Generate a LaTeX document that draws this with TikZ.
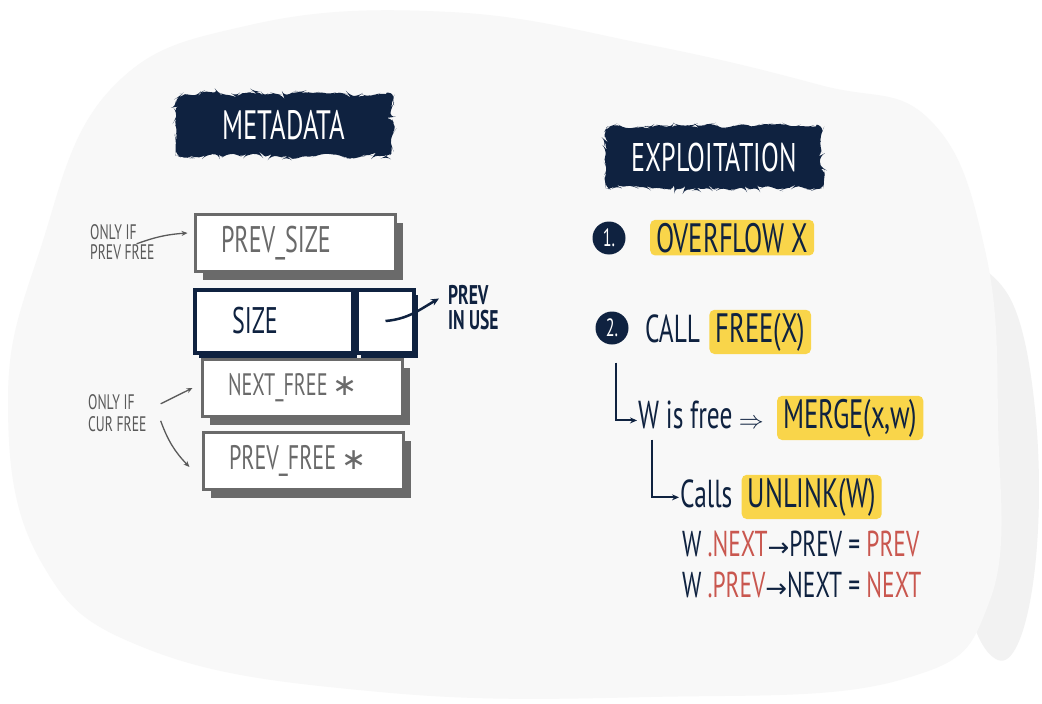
\documentclass[tikz,border=0pt]{standalone}
\usepackage{fontspec}
\setmainfont{PT Sans}[FakeStretch=0.65]
\newfontfamily\symfont{DejaVu Sans}
\usepackage{xcolor}
\definecolor{navy}{HTML}{0F2240}
\definecolor{boxgray}{HTML}{6A6A6A}
\definecolor{notegray}{HTML}{5A5A5A}
\definecolor{hlyellow}{HTML}{F9D54A}
\definecolor{redtxt}{HTML}{C9574F}
\definecolor{blobgray}{HTML}{F8F8F8}
\definecolor{blobdark}{HTML}{F2F2F2}
\usepackage{tikz}
\usetikzlibrary{arrows.meta,positioning,shadows,decorations.pathmorphing}
\tikzset{
  badge/.style={rectangle,rounded corners=6pt,
    fill=navy,text=white,
    decorate,decoration={random steps,segment length=5pt,amplitude=3pt},
    minimum width=216pt,minimum height=62pt,
    font=\fontsize{41}{43}\selectfont},
  mem_box/.style={rectangle,
    draw=boxgray,line width=3pt,fill=white,
    drop shadow={shadow xshift=8pt,shadow yshift=-8pt,fill=boxgray,opacity=1},
    text width=148pt,inner xsep=26pt,align=left,
    minimum height=57pt,text=boxgray},
  size_box/.style={rectangle,
    draw=navy,line width=4pt,fill=white,
    drop shadow={shadow xshift=4pt,shadow yshift=-5pt,fill=navy,opacity=1},
    minimum height=63pt,text=navy,
    font=\fontsize{37}{39}\selectfont},
  note/.style={align=left,inner sep=0pt,text=notegray,
    font=\fontsize{21}{20}\selectfont},
  note_arr/.style={-{Stealth[length=6pt,width=5pt]},line width=1.3pt,draw=notegray},
  use_arr/.style={-{Stealth[length=8pt,width=7pt]},line width=2.5pt,draw=navy},
  hook_arr/.style={-{Stealth[length=7pt,width=6pt]},line width=2pt,draw=navy},
  num_circ/.style={circle,fill=navy,text=white,
    minimum size=33pt,inner sep=0pt,
    font=\fontsize{25}{25}\selectfont},
  txt/.style={text=navy,inner sep=1pt,
    font=\fontsize{39}{41}\selectfont},
  hl/.style={fill=hlyellow,rounded corners=5pt,
    text=navy,inner xsep=6pt,inner ysep=3pt,
    font=\fontsize{41}{43}\selectfont},
  eq/.style={text=navy,inner sep=1pt,
    font=\fontsize{36}{38}\selectfont},
}
\newcommand{\boxstar}{{\symfont\fontsize{30}{30}\selectfont ∗}}
\newcommand{\eqarrow}{{\symfont\fontsize{26}{26}\selectfont →}}

\begin{document}
\begin{tikzpicture}[x=1pt,y=-1pt]
  \useasboundingbox (0,0) rectangle (1042,704);
  \fill[white] (0,0) rectangle (1042,704);
  \fill[blobdark] plot[smooth cycle,tension=0.7] coordinates
    {(950,300) (1005,290) (1036,420) (1032,590) (998,660) (960,560)};
  \fill[blobgray] plot[smooth cycle,tension=0.7] coordinates
    {(40,250) (110,90) (250,25) (450,12) (650,45) (820,85) (930,120)
     (985,250) (998,420) (990,600) (900,680) (650,697) (380,692)
     (150,650) (40,560) (8,400)};

  \node (meta) [badge] at (284,125) {METADATA};
  \node (expl) [badge,font=\fontsize{40}{42}\selectfont] at (714,157) {EXPLOITATION};

  \node (psize) [mem_box,font=\fontsize{37}{39}\selectfont] at (295,243) {PREV\_SIZE};
  \node (size) [size_box,text width=84pt,inner xsep=37pt,align=left] at (274,321) {SIZE};
  \node (inuse) [size_box,minimum width=57pt,right=0pt of size] {};
  \node (nfree) [mem_box,font=\fontsize{31}{33}\selectfont] at (302,388) {NEXT\_FREE\,\boxstar};
  \node (pfree) [mem_box,font=\fontsize{34}{36}\selectfont] at (303,461) {PREV\_FREE\,\boxstar};

  \node (note1) [note,anchor=north west] at (90,224) {ONLY IF\\PREV FREE};
  \node (note2) [note,anchor=north west,font=\fontsize{21}{22}\selectfont] at (88,394) {ONLY IF\\CUR FREE};
  \node (prevuse) [anchor=north west,align=left,inner sep=0pt,text=navy,
    font=\bfseries\fontsize{27}{25}\selectfont] at (448,285) {PREV\\IN USE};

  \draw[note_arr] ([xshift=-18pt,yshift=-2pt]note1.east) to[bend left=8] ([xshift=-6pt,yshift=10pt]psize.west);
  \draw[note_arr] ([xshift=14pt,yshift=9pt]note2.east) -- ([xshift=-8pt]nfree.west);
  \draw[note_arr] ([xshift=14pt,yshift=-8pt]note2.east) to[bend right=12] ([xshift=-12pt,yshift=-6pt]pfree.west);
  \draw[use_arr] (inuse.center) to[out=5,in=-150] ([xshift=-9pt,yshift=9pt]prevuse.west);

  \node (n1) [num_circ] at (609,238) {1.};
  \node (ovf) [hl,anchor=base west] at (650,252) {OVERFLOW X\hspace{14pt}};
  \node (n2) [num_circ] at (612,328) {2.};
  \node (call) [txt,anchor=base west] at (644,342) {CALL};
  \node (free) [hl,base right=8pt of call] {FREE(X)};
  \node (wfree) [txt,anchor=base west] at (637,428) {W is free};
  \node (implies) [txt,base right=4pt of wfree] {$\Rightarrow$};
  \node (merge) [hl,base right=12pt of implies] {MERGE(x,w)};
  \node (calls) [txt,anchor=base west] at (679,507) {Calls};
  \node (unlink) [hl,base right=8pt of calls] {UNLINK(W)};
  \node (eq1) [eq,anchor=base west] at (681,556)
    {W\,\textcolor{redtxt}{.NEXT}\eqarrow PREV = \textcolor{redtxt}{PREV}};
  \node (eq2) [eq,anchor=base west] at (681,597)
    {W\,\textcolor{redtxt}{.PREV}\eqarrow NEXT = \textcolor{redtxt}{NEXT}};

  \draw[hook_arr] ([xshift=4pt,yshift=-18pt]n2.south) |- ([yshift=-6pt]wfree.west);
  \draw[hook_arr] ([xshift=15pt,yshift=-10pt]wfree.south west) |- ([yshift=-4pt]calls.west);
\end{tikzpicture}
\end{document}
